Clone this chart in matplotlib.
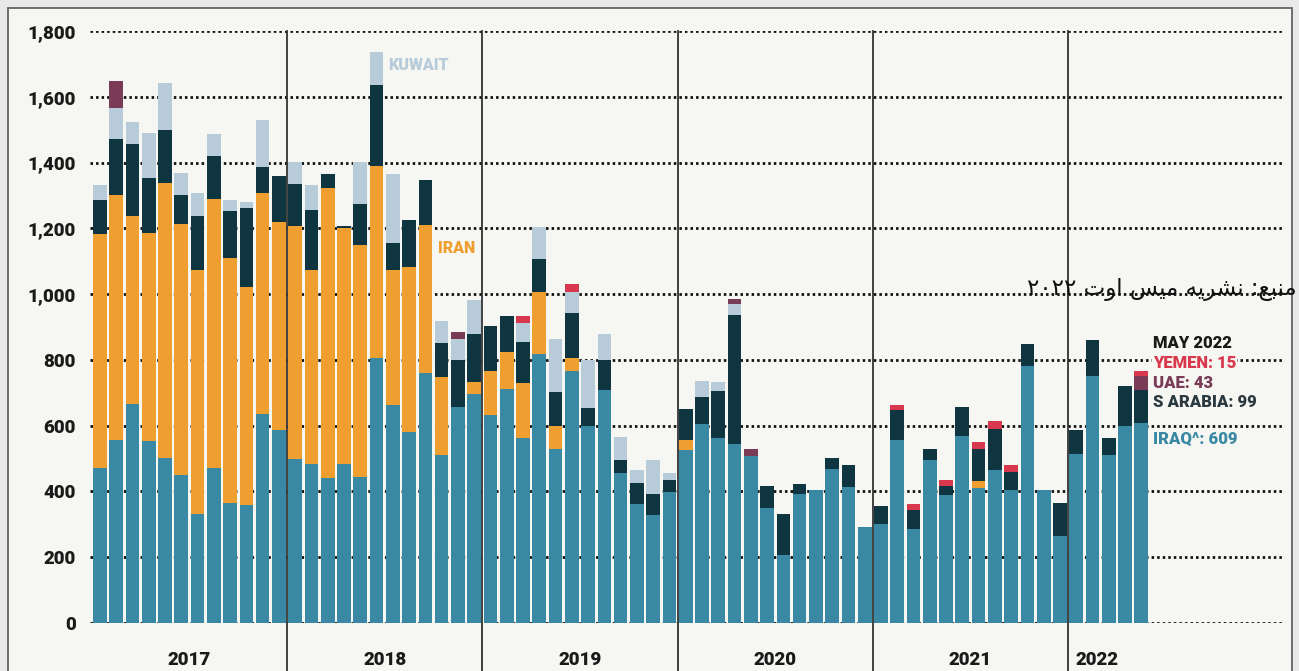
import matplotlib
matplotlib.use('Agg')
import matplotlib.pyplot as plt
from matplotlib.patches import Rectangle
import numpy as np

# monthly imports Jan 2017 - May 2022 (65 months)
years = ['2017', '2018', '2019', '2020', '2021', '2022']
months = [f'{y}-{m:02d}' for y in range(2017, 2023) for m in range(1, 13)][:65]

iraq = [470, 556, 667, 553, 502, 449, 332, 471, 366, 360, 634, 586,
        500, 484, 442, 484, 444, 806, 664, 581, 759, 512, 657, 695,
        633, 710, 561, 817, 530, 767, 598, 708, 457, 363, 327, 398,
        525, 604, 561, 545, 508, 350, 207, 391, 405, 469, 413, 292,
        301, 555, 285, 497, 388, 570, 409, 464, 404, 781, 403, 264,
        515, 752, 510, 599, 609]
iran = [713, 746, 569, 633, 836, 765, 742, 819, 743, 663, 674, 632,
        707, 590, 880, 716, 706, 584, 410, 501, 452, 236, 0, 38,
        133, 115, 170, 190, 70, 40, 0, 0, 0, 0, 0, 0,
        31, 0, 0, 0, 0, 0, 0, 0, 0, 0, 0, 0,
        0, 0, 0, 0, 0, 0, 22, 0, 0, 0, 0, 0,
        0, 0, 0, 0, 0]
s_arabia = [104, 171, 220, 167, 162, 88, 165, 131, 143, 239, 78, 140,
            129, 182, 42, 7, 125, 245, 81, 143, 136, 104, 143, 147,
            137, 108, 122, 100, 103, 137, 57, 92, 40, 64, 66, 36,
            96, 84, 145, 390, 0, 68, 125, 33, 0, 34, 66, 0,
            55, 92, 58, 32, 28, 87, 98, 126, 55, 66, 0, 102,
            71, 108, 54, 122, 99]
kuwait = [44, 94, 66, 137, 143, 67, 69, 67, 33, 18, 143, 0,
          66, 75, 0, 0, 127, 102, 209, 0, 0, 67, 65, 102,
          0, 0, 59, 98, 160, 61, 144, 80, 69, 37, 102, 23,
          0, 48, 27, 35, 0, 0, 0, 0, 0, 0, 0, 0,
          0, 0, 0, 0, 0, 0, 0, 0, 0, 0, 0, 0,
          0, 0, 0, 0, 0]
uae = [0, 81, 0, 0, 0, 0, 0, 0, 0, 0, 0, 0,
       0, 0, 0, 0, 0, 0, 0, 0, 0, 0, 20, 0,
       0, 0, 0, 0, 0, 0, 0, 0, 0, 0, 0, 0,
       0, 0, 0, 15, 20, 0, 0, 0, 0, 0, 0, 0,
       0, 0, 0, 0, 0, 0, 0, 0, 0, 0, 0, 0,
       0, 0, 0, 0, 43]
yemen = [0, 0, 0, 0, 0, 0, 0, 0, 0, 0, 0, 0,
         0, 0, 0, 0, 0, 0, 0, 0, 0, 0, 0, 0,
         0, 0, 20, 0, 0, 25, 0, 0, 0, 0, 0, 0,
         0, 0, 0, 0, 0, 0, 0, 0, 0, 0, 0, 0,
         0, 16, 18, 0, 20, 0, 21, 23, 20, 0, 0, 0,
         0, 0, 0, 0, 15]

yticks = [0, 200, 400, 600, 800, 1000, 1200, 1400, 1600, 1800]

# Persian source note, written in visual order with presentation forms
source = ('\u06F2\u06F0\u06F2\u06F2 \uFE95\uFEED\uFE8D \uFEB2\uFBFF\uFEE3 '
          '\uFEEA\uFBFE\uFEAE\uFEB8\uFEE7 :\uFECA\uFE92\uFEE8\uFEE3')

c_iraq, c_iran, c_sa = '#3a89a4', '#ee9f2f', '#0e3540'
c_kuw, c_uae, c_yem = '#b7cbd8', '#7a3b57', '#d8384e'
bg = '#f6f6f2'

W, H = 1299, 671
fig = plt.figure(figsize=(W / 100, H / 100), dpi=100)
fig.patch.set_facecolor('#e9e9e9')
fig.patches.append(Rectangle((8 / W, -0.01), (1284) / W, (H - 8) / H + 0.01,
                             transform=fig.transFigure, facecolor=bg,
                             edgecolor='#6e6e6e', lw=1.4, zorder=-1))

ax = fig.add_axes([90 / W, (H - 623) / H, (1285 - 90) / W, (623 - 31) / H])
ax.set_facecolor('none')
ax.set_xlim(-0.61, 72.83)
ax.set_ylim(0, 1800)

for y in yticks:
    ax.axhline(y, color='#111111', lw=2.0, ls=(0, (0.9, 1.1)), zorder=0)

x = np.arange(len(months))
bottom = np.zeros(len(months))
for vals, col in [(iraq, c_iraq), (iran, c_iran), (s_arabia, c_sa),
                  (kuwait, c_kuw), (uae, c_uae), (yemen, c_yem)]:
    v = np.array(vals, dtype=float)
    ax.bar(x, v, bottom=bottom, width=0.84, color=col, lw=0, zorder=2)
    bottom += v

# year separators
trans = ax.get_xaxis_transform()
for s in [11.5, 23.5, 35.5, 47.5, 59.5]:
    ax.plot([s, s], [1.0, -0.09], transform=trans, color='#333333', lw=1.3,
            clip_on=False, zorder=3)

year_pos = [5.5, 17.5, 29.5, 41.5, 53.5, 61.3]
for yp, lab in zip(year_pos, years):
    ax.text(yp, -0.062, lab, transform=trans, ha='center', va='center',
            fontsize=13.5, fontweight='heavy', family='Roboto', color='#1a1a1a')

ax.set_yticks(yticks)
ax.set_yticklabels([f'{v:,}' for v in yticks], fontsize=13.5, fontweight='heavy',
                   family='Roboto', color='#1a1a1a')
ax.tick_params(axis='y', length=0, pad=10)
ax.set_xticks([])
for sp in ax.spines.values():
    sp.set_visible(False)

ax.text(17.7, 1697, 'KUWAIT', color=c_kuw, fontsize=11.5, fontweight='heavy',
        family='Roboto', va='center')
ax.text(20.8, 1140, 'IRAN', color=c_iran, fontsize=11.5, fontweight='heavy',
        family='Roboto', va='center')

lab_kw = dict(fontsize=12, fontweight='heavy', family='Roboto', va='center',
              bbox=dict(facecolor=bg, edgecolor='none', pad=0.5), zorder=4)
ax.text(64.7, 851, 'MAY 2022', color='#1a1a1a', **lab_kw)
ax.text(64.7, 790, 'YEMEN: 15', color=c_yem, **lab_kw)
ax.text(64.7, 730, 'UAE: 43', color=c_uae, **lab_kw)
ax.text(64.7, 672, 'S ARABIA: 99', color='#2b3a40', **lab_kw)
ax.text(64.7, 559, 'IRAQ^: 609', color=c_iraq, **lab_kw)

fig.text(1297 / W, (H - 289) / H, source, ha='right', va='center',
         fontsize=16.5, family=['DejaVu Sans', 'Noto Sans'], color='#111111')

fig.savefig('out.png', dpi=100, facecolor=fig.get_facecolor())
